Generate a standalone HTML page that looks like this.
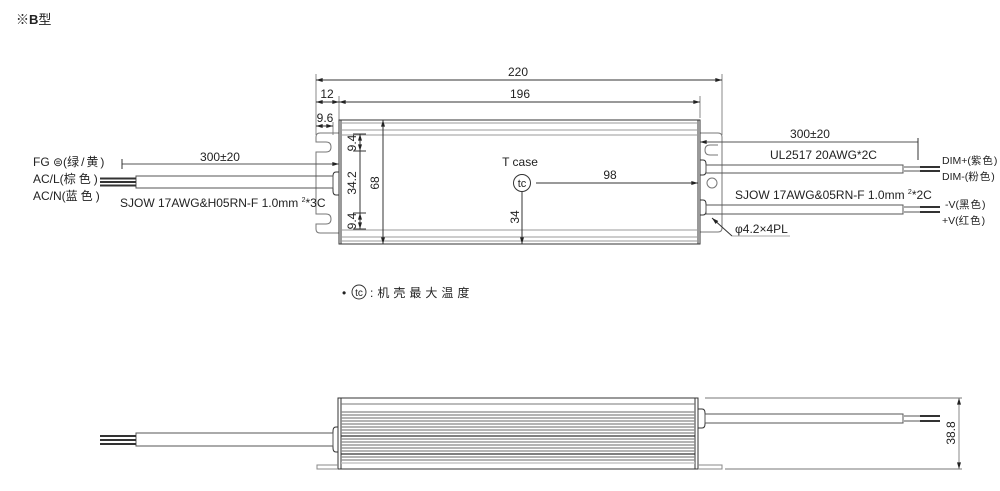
<!DOCTYPE html>
<html><head><meta charset="utf-8"><style>
html,body{margin:0;padding:0;background:#fff;}
svg{display:block;}
text{font-family:"Liberation Sans","Noto Sans CJK SC",sans-serif;fill:#222;}
</style></head><body>
<svg width="1000" height="491" viewBox="0 0 1000 491" xmlns="http://www.w3.org/2000/svg">
<defs>
<marker id="a" viewBox="0 0 10 6" refX="10" refY="3" markerWidth="7" markerHeight="4" orient="auto-start-reverse"><path d="M0,0 L10,3 L0,6z" fill="#222"/></marker>
</defs>
<text x="16" y="24" font-size="13">※<tspan font-weight="bold">B</tspan>型</text>

<g fill="none" stroke="#333" stroke-width="1">
<line x1="316" y1="74" x2="316" y2="135" stroke="#888"/>
<line x1="722" y1="74" x2="722" y2="135" stroke="#888"/>
<line x1="339" y1="96" x2="339" y2="120" stroke="#888"/>
<line x1="700" y1="96" x2="700" y2="118" stroke="#888"/>
<line x1="333" y1="122" x2="333" y2="135" stroke="#888"/>
<line x1="316" y1="80" x2="722" y2="80" marker-start="url(#a)" marker-end="url(#a)"/>
<line x1="316" y1="102" x2="339" y2="102" marker-start="url(#a)" marker-end="url(#a)"/>
<line x1="339" y1="102" x2="700" y2="102" marker-start="url(#a)" marker-end="url(#a)"/>
<line x1="316" y1="126" x2="333" y2="126" marker-start="url(#a)" marker-end="url(#a)"/>
<path d="M339,133 H320 Q316,133 316,137 V142 H326 Q331,142 331,147 Q331,152 326,152 H316 V214 H326 Q331,214 331,219 Q331,224 326,224 H316 V229 Q316,233 320,233 H339" stroke="#777"/>
<path d="M700,133 H718 Q722,133 722,137 V228 Q722,232 718,232 H700" stroke="#777"/>
<path d="M718,145 H710 Q705,145 705,150 Q705,155 710,155 H718" stroke="#777"/>
<rect x="707" y="178" width="10" height="10" rx="5" stroke="#777"/>
<rect x="339" y="120" width="361" height="124"/>
<line x1="341" y1="120" x2="341" y2="244"/><line x1="698" y1="120" x2="698" y2="244"/>
<line x1="339" y1="123" x2="700" y2="123" stroke="#999"/>
<line x1="339" y1="130" x2="700" y2="130" stroke="#999"/>
<line x1="339" y1="135" x2="700" y2="135" stroke="#999"/>
<line x1="339" y1="230" x2="700" y2="230" stroke="#999"/>
<line x1="339" y1="237" x2="700" y2="237" stroke="#999"/>
<line x1="339" y1="241" x2="700" y2="241" stroke="#999"/>
<line x1="383" y1="120" x2="383" y2="244" marker-start="url(#a)" marker-end="url(#a)"/>
<line x1="360" y1="134" x2="360" y2="229"/>
<line x1="353" y1="134" x2="366" y2="134"/><line x1="353" y1="151" x2="366" y2="151"/>
<line x1="353" y1="213" x2="366" y2="213"/><line x1="353" y1="229" x2="366" y2="229"/>
<line x1="360" y1="134" x2="360" y2="151" marker-start="url(#a)" marker-end="url(#a)"/>
<line x1="360" y1="213" x2="360" y2="229" marker-start="url(#a)" marker-end="url(#a)"/>
<circle cx="522" cy="183" r="8.5"/>
<line x1="536" y1="183" x2="698" y2="183" marker-end="url(#a)"/>
<line x1="522" y1="192" x2="522" y2="244" marker-end="url(#a)"/>
<path d="M339,172 H336 Q333,172 333,176 V191 Q333,195 336,195 H339"/>
<rect x="136" y="176" width="197" height="12" stroke="#555"/>
<line x1="122" y1="164" x2="339" y2="164" stroke="#555" marker-end="url(#a)"/>
<line x1="122" y1="159" x2="122" y2="169"/>
<path d="M700,160 H703 Q706,160 706,164 V171 Q706,175 703,175 H700"/>
<path d="M700,200 H703 Q706,200 706,204 V211 Q706,215 703,215 H700"/>
<rect x="706" y="165" width="197" height="8" stroke="#555"/>
<rect x="706" y="205" width="197" height="9" stroke="#555"/>
<line x1="700" y1="142" x2="918" y2="142" stroke="#555" marker-start="url(#a)"/>
<line x1="918" y1="138" x2="918" y2="160"/>
<line x1="712" y1="218" x2="732" y2="236" marker-start="url(#a)"/>
<line x1="732" y1="236" x2="790" y2="236" stroke="#555" stroke-width="0.6"/>
</g>
<g stroke-width="2">
<line x1="100" y1="178.5" x2="136" y2="178.5" stroke="#333"/>
<line x1="100" y1="182" x2="136" y2="182" stroke="#333"/>
<line x1="100" y1="185.5" x2="136" y2="185.5" stroke="#333"/>
<line x1="903" y1="167" x2="920" y2="167" stroke="#aaa"/><line x1="920" y1="167" x2="940" y2="167" stroke="#333"/>
<line x1="903" y1="171" x2="920" y2="171" stroke="#aaa"/><line x1="920" y1="171" x2="940" y2="171" stroke="#333"/>
<line x1="903" y1="207" x2="920" y2="207" stroke="#aaa"/><line x1="920" y1="207" x2="940" y2="207" stroke="#333"/>
<line x1="903" y1="212" x2="920" y2="212" stroke="#aaa"/><line x1="920" y1="212" x2="940" y2="212" stroke="#333"/>
</g>
<g font-size="12">
<text x="518" y="76" text-anchor="middle">220</text>
<text x="327" y="98" text-anchor="middle">12</text>
<text x="520" y="98" text-anchor="middle">196</text>
<text x="325" y="122" text-anchor="middle">9.6</text>
<text x="520" y="166" text-anchor="middle">T case</text>
<text x="522" y="187" text-anchor="middle" font-size="11">tc</text>
<text x="610" y="179" text-anchor="middle">98</text>
<text transform="translate(519,217) rotate(-90)" text-anchor="middle">34</text>
<text transform="translate(379,183) rotate(-90)" text-anchor="middle">68</text>
<text transform="translate(356,183) rotate(-90)" text-anchor="middle">34.2</text>
<text transform="translate(356,143) rotate(-90)" text-anchor="middle">9.4</text>
<text transform="translate(356,221) rotate(-90)" text-anchor="middle">9.4</text>
<text x="220" y="161" text-anchor="middle">300±20</text>
<text x="33" y="166">FG ⊜(<tspan letter-spacing="2">绿/黄</tspan>)</text>
<text x="33" y="183">AC/L(<tspan letter-spacing="3">棕色</tspan>)</text>
<text x="33" y="200">AC/N(<tspan letter-spacing="3">蓝色</tspan>)</text>
<text x="120" y="207">SJOW 17AWG&amp;H05RN-F 1.0mm <tspan font-size="7" dy="-5">2</tspan><tspan dy="5">*3C</tspan></text>
<text x="810" y="138" text-anchor="middle">300±20</text>
<text x="770" y="159">UL2517 20AWG*2C</text>
<text x="735" y="199">SJOW 17AWG&amp;05RN-F 1.0mm <tspan font-size="7" dy="-5">2</tspan><tspan dy="5">*2C</tspan></text>
<text x="942" y="164" font-size="10.5">DIM+(<tspan letter-spacing="1">紫色</tspan>)</text>
<text x="942" y="180" font-size="10.5">DIM-(<tspan letter-spacing="1">粉色</tspan>)</text>
<text x="945" y="208" font-size="10.5">-V(<tspan letter-spacing="1">黑色</tspan>)</text>
<text x="942" y="224" font-size="10.5">+V(<tspan letter-spacing="1">红色</tspan>)</text>
<text x="735" y="233">φ4.2×4PL</text>
<text x="342" y="297">•</text>
<text x="370" y="297" letter-spacing="4">:机壳最大温度</text>
</g>
<circle cx="359" cy="292" r="7" fill="none" stroke="#333"/>
<text x="359" y="296" text-anchor="middle" font-size="10">tc</text>

<g fill="none" stroke="#333">
<rect x="338" y="398" width="360" height="71"/>
<line x1="341" y1="398" x2="341" y2="469"/><line x1="695" y1="398" x2="695" y2="469"/>
<line x1="341" y1="404" x2="695" y2="404" stroke="#777"/>
<g stroke="#888" stroke-width="1.2">
<line x1="341" y1="412" x2="695" y2="412"/><line x1="341" y1="415" x2="695" y2="415"/>
<line x1="341" y1="418" x2="695" y2="418"/><line x1="341" y1="421" x2="695" y2="421"/>
<line x1="341" y1="424" x2="695" y2="424"/><line x1="341" y1="427" x2="695" y2="427"/>
<line x1="341" y1="430" x2="695" y2="430"/><line x1="341" y1="433" x2="695" y2="433"/>
<line x1="341" y1="436" x2="695" y2="436" stroke="#333"/><line x1="341" y1="439" x2="695" y2="439"/>
<line x1="341" y1="442" x2="695" y2="442"/><line x1="341" y1="445" x2="695" y2="445"/>
<line x1="341" y1="448" x2="695" y2="448"/><line x1="341" y1="451" x2="695" y2="451"/>
<line x1="341" y1="454" x2="695" y2="454" stroke="#333"/><line x1="341" y1="457" x2="695" y2="457"/>
<line x1="341" y1="460" x2="695" y2="460"/><line x1="341" y1="463" x2="695" y2="463" stroke="#bbb"/>
</g>
<path d="M338,465 H317 V469 H338" stroke="#888"/>
<path d="M698,465 H722 V469 H698" stroke="#888"/>
<path d="M338,427 H336 Q333,427 333,431 V448 Q333,452 336,452 H338"/>
<rect x="136" y="433" width="197" height="13" stroke="#555"/>
<path d="M698,409 H702 Q705,409 705,413 V424 Q705,428 702,428 H698"/>
<rect x="705" y="414" width="198" height="9" stroke="#555"/>
<line x1="705" y1="398" x2="962" y2="398" stroke="#777"/>
<line x1="725" y1="469" x2="962" y2="469" stroke="#777"/>
<line x1="959" y1="398" x2="959" y2="469" stroke="#888" marker-start="url(#a)" marker-end="url(#a)"/>
</g>
<g stroke-width="2">
<line x1="100" y1="436" x2="136" y2="436" stroke="#333"/>
<line x1="100" y1="440" x2="136" y2="440" stroke="#333"/>
<line x1="100" y1="444" x2="136" y2="444" stroke="#333"/>
<line x1="903" y1="416" x2="920" y2="416" stroke="#aaa"/><line x1="920" y1="416" x2="940" y2="416" stroke="#333"/>
<line x1="903" y1="421" x2="920" y2="421" stroke="#aaa"/><line x1="920" y1="421" x2="940" y2="421" stroke="#333"/>
</g>
<text transform="translate(955,433) rotate(-90)" text-anchor="middle" font-size="12">38.8</text>
</svg>
</body></html>
